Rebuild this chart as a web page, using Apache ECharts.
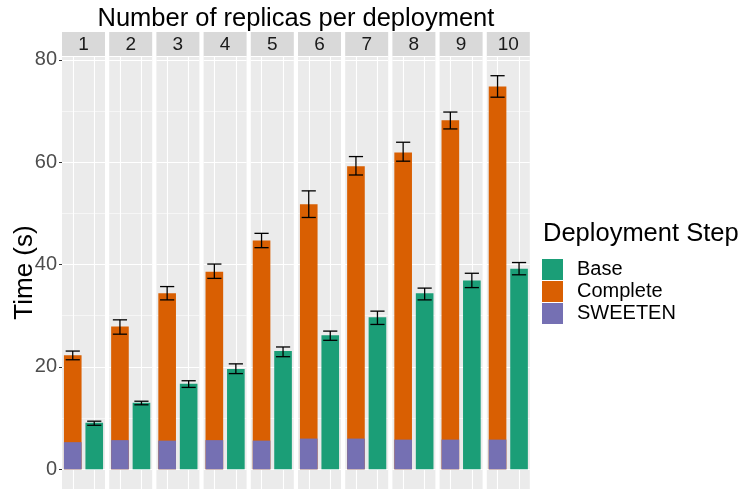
<!DOCTYPE html>
<html>
<head>
    <meta http-equiv="Content-Type" content="text/html; charset=utf-8"/>
    <title>replicas</title>
    <style>
        body{ margin: 0; }
        #main{ width: 739px; height: 489px; }
    </style>
    <script src="https://cdn.jsdelivr.net/npm/echarts@6.0.0/dist/echarts.min.js"></script>
</head>
<body>
<div id="main"></div>
<script type="text/javascript">
    // data
    var replicas = ['1', '2', '3', '4', '5', '6', '7', '8', '9', '10'];
    var slots = ['total', 'base'];
    var sweeten = [5.3, 5.7, 5.6, 5.7, 5.6, 6.0, 6.0, 5.8, 5.8, 5.8];
    var complete = [22.3, 27.9, 34.4, 38.6, 44.7, 51.8, 59.2, 61.9, 68.2, 74.8];
    var completeLo = [21.4, 26.4, 33.1, 37.3, 43.3, 49.2, 57.5, 60.2, 66.5, 72.7];
    var completeHi = [23.1, 29.2, 35.7, 40.1, 46.1, 54.4, 61.1, 63.9, 69.8, 76.9];
    var base = [9.1, 13.0, 16.7, 19.6, 23.1, 26.2, 29.7, 34.4, 36.9, 39.2];
    var baseLo = [8.6, 12.6, 16.0, 18.7, 22.0, 25.2, 28.3, 33.1, 35.5, 38.0];
    var baseHi = [9.4, 13.3, 17.3, 20.6, 23.9, 27.0, 30.9, 35.4, 38.3, 40.4];

    var colors = {Base: '#1B9E77', Complete: '#D95F02', SWEETEN: '#7570B3'};
    var font = '"Liberation Sans", Arial, sans-serif';

    var myChart = echarts.init(document.getElementById('main'));

    var panelLeft = 62, panelStep = 47.2, panelW = 43, panelTop = 56, panelH = 435;

    function errRender(params, api) {
        var x = api.value(0);
        var lo = api.coord([x, api.value(1)]);
        var hi = api.coord([x, api.value(2)]);
        var half = api.size([1, 0])[0] * 0.33;
        var st = {stroke: '#000', lineWidth: 1.3};
        return {
            type: 'group',
            children: [
                {type: 'line', shape: {x1: lo[0], y1: lo[1], x2: hi[0], y2: hi[1]}, style: st},
                {type: 'line', shape: {x1: lo[0] - half, y1: lo[1], x2: lo[0] + half, y2: lo[1]}, style: st},
                {type: 'line', shape: {x1: hi[0] - half, y1: hi[1], x2: hi[0] + half, y2: hi[1]}, style: st}
            ]
        };
    }

    var grids = [], xAxes = [], yAxes = [], series = [], graphics = [];

    for (var i = 0; i < replicas.length; i++) {
        var left = panelLeft + panelStep * i;
        grids.push({
            left: left, top: panelTop, width: panelW, height: panelH,
            show: true, backgroundColor: '#EBEBEB', borderWidth: 0
        });
        xAxes.push({
            gridIndex: i, type: 'category', data: slots,
            axisLine: {show: false}, axisTick: {show: false}, axisLabel: {show: false},
            splitLine: {show: false}
        });
        yAxes.push({
            gridIndex: i, type: 'value', min: -3.85, max: 80.75, splitNumber: 4,
            name: i === 0 ? 'Time (s)' : '',
            nameLocation: 'middle', nameRotate: 90, nameGap: 24, nameMoveOverlap: false,
            nameTextStyle: {fontSize: 26, color: '#000', fontFamily: font},
            axisLine: {show: false},
            axisTick: {show: i === 0, length: 3, lineStyle: {color: '#333', width: 1}},
            axisLabel: {
                show: i === 0, margin: 5, fontSize: 20, color: '#4D4D4D', fontFamily: font,
                showMinLabel: false, showMaxLabel: false
            },
            splitLine: {show: true, lineStyle: {color: '#fff', width: 1.1}},
            minorTick: {show: false, splitNumber: 2},
            minorSplitLine: {show: true, lineStyle: {color: '#fff', width: 0.55}}
        });
        series.push({
            name: 'Complete', type: 'bar', xAxisIndex: i, yAxisIndex: i,
            data: [complete[i], '-'], barGap: '-100%', barCategoryGap: '18%',
            itemStyle: {color: colors.Complete}, z: 2,
            markLine: {
                silent: true, symbol: 'none', z: 1, animation: false,
                label: {show: false},
                lineStyle: {color: '#fff', width: 1.1, type: 'solid'},
                emphasis: {disabled: true},
                data: [{xAxis: slots[0]}, {xAxis: slots[1]}]
            }
        });
        series.push({
            name: 'SWEETEN', type: 'bar', xAxisIndex: i, yAxisIndex: i,
            data: [sweeten[i], '-'], barGap: '-100%', barCategoryGap: '18%',
            itemStyle: {color: colors.SWEETEN}, z: 3
        });
        series.push({
            name: 'Base', type: 'bar', xAxisIndex: i, yAxisIndex: i,
            data: ['-', base[i]], barGap: '-100%', barCategoryGap: '18%',
            itemStyle: {color: colors.Base}, z: 2
        });
        series.push({
            name: 'err', type: 'custom', xAxisIndex: i, yAxisIndex: i,
            renderItem: errRender, encode: {x: 0, y: [1, 2]}, z: 4, silent: true,
            data: [[0, completeLo[i], completeHi[i]], [1, baseLo[i], baseHi[i]]]
        });

        // facet strip
        graphics.push({
            type: 'rect', silent: true,
            shape: {x: left, y: 32, width: panelW, height: 24},
            style: {fill: '#D9D9D9'}
        });
        graphics.push({
            type: 'text', silent: true,
            style: {
                x: left + panelW / 2, y: 44.5, text: replicas[i],
                font: '19px ' + font, fill: '#1A1A1A',
                textAlign: 'center', textVerticalAlign: 'middle'
            }
        });
    }

    graphics.push({
        type: 'text', silent: true,
        style: {
            x: panelLeft + (panelStep * 9 + panelW) / 2, y: 19, text: 'Number of replicas per deployment',
            font: '25.5px ' + font, fill: '#000', textAlign: 'center', textVerticalAlign: 'middle'
        }
    });
    graphics.push({
        type: 'text', silent: true,
        style: {
            x: 543, y: 234, text: 'Deployment Step',
            font: '25.5px ' + font, fill: '#000', textAlign: 'left', textVerticalAlign: 'middle'
        }
    });

    option = {
        animation: false,
        backgroundColor: '#fff',
        grid: grids,
        xAxis: xAxes,
        yAxis: yAxes,
        legend: {
            data: ['Base', 'Complete', 'SWEETEN'],
            orient: 'vertical', left: 542, top: 259, padding: 0,
            itemWidth: 21, itemHeight: 21, itemGap: 1, icon: 'rect',
            selectedMode: false,
            textStyle: {fontSize: 20, color: '#000', fontFamily: font, padding: [0, 0, 0, 9]}
        },
        graphic: graphics,
        series: series
    };
    myChart.setOption(option);
</script>
</body>
</html>
